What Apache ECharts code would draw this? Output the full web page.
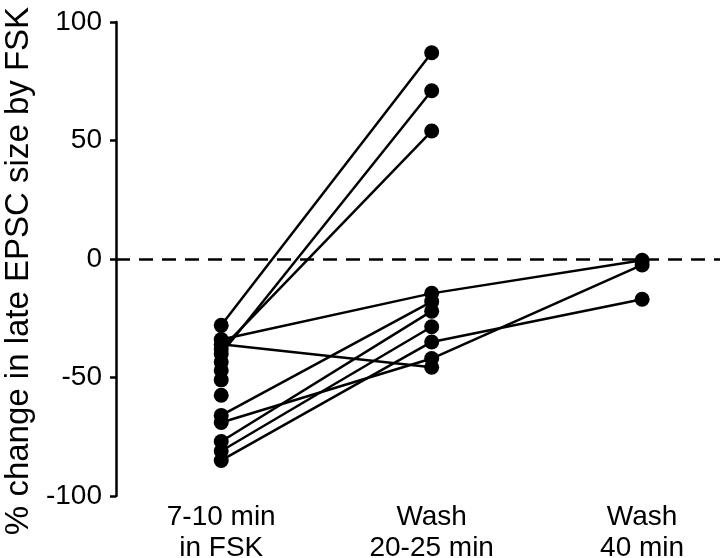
<!DOCTYPE html>
<html>
<head>
<meta charset="utf-8">
<script src="https://cdn.jsdelivr.net/npm/echarts@6/dist/echarts.min.js"></script>
<style>
html,body{margin:0;padding:0;background:#fff;}
#chart{width:720px;height:558px;}
</style>
</head>
<body>
<div id="chart"></div>
<script>
// Categories (x positions 0,1,2)
const categories = ['7-10 min\nin FSK', 'Wash\n20-25 min', 'Wash\n40 min'];
// Per-cell values (% change); null = not measured
const fsk      = [-28, -34, -40, -38, -36, -66, -69, -77, -81, -85, -43.5, -47, -51, -57.5];
const wash2025 = [ 87, -14.5, 71,  54, -45.7, -18, -42, -22, -28.6, -35, null, null, null, null];
const wash40   = [null, -0.5, null, null, null, null, -2.5, null, null, -17, null, null, null, null];
const yTicks = [-100, -50, 0, 50, 100];

const FONT = 'Liberation Sans, Arial, sans-serif';
const series = fsk.map((v, i) => {
  const pts = [];
  [fsk[i], wash2025[i], wash40[i]].forEach((val, k) => {
    if (val !== null && val !== undefined) pts.push([k, val]);
  });
  return {
    type: 'line',
    data: pts,
    symbol: 'circle',
    symbolSize: 15,
    itemStyle: {color: '#000'},
    lineStyle: {color: '#000', width: 2.5},
    silent: true,
    animation: false
  };
});
series.push({
  type: 'line',
  data: [],
  silent: true,
  animation: false,
  markLine: {
    symbol: 'none',
    silent: true,
    label: {show: false},
    lineStyle: {color: '#000', type: [14, 9], width: 2.5},
    data: [{yAxis: 0}]
  }
});

const chart = echarts.init(document.getElementById('chart'), null, {renderer: 'canvas'});
chart.setOption({
  backgroundColor: '#fff',
  animation: false,
  grid: {left: 116, right: 0, top: 22, bottom: 62, containLabel: false, outerBoundsMode: 'none'},
  xAxis: {
    type: 'value',
    min: -0.5,
    max: 2.37,
    interval: 0.5,
    axisLine: {show: false, onZero: false},
    axisTick: {show: false},
    splitLine: {show: false},
    axisLabel: {
      show: true,
      margin: 6,
      color: '#000',
      fontFamily: FONT,
      fontSize: 28,
      lineHeight: 31,
      showMinLabel: true,
      showMaxLabel: true,
      formatter: function (v) {
        const r = Math.round(v);
        if (Math.abs(v - r) < 1e-6 && r >= 0 && r < categories.length) return categories[r];
        return '';
      }
    }
  },
  yAxis: {
    type: 'value',
    min: yTicks[0],
    max: yTicks[yTicks.length - 1],
    interval: 50,
    name: '% change in late EPSC size by FSK',
    nameLocation: 'middle',
    nameGap: 80,
    nameRotate: 90,
    nameTextStyle: {color: '#000', fontFamily: FONT, fontSize: 33, padding: [0, 24, 0, 0]},
    axisLine: {show: true, onZero: false, lineStyle: {color: '#000', width: 2.5}},
    axisTick: {show: true, inside: false, length: 6, lineStyle: {color: '#000', width: 2.5}},
    splitLine: {show: false},
    axisLabel: {color: '#000', fontFamily: FONT, fontSize: 28, margin: 14}
  },
  series: series
});
</script>
</body>
</html>
